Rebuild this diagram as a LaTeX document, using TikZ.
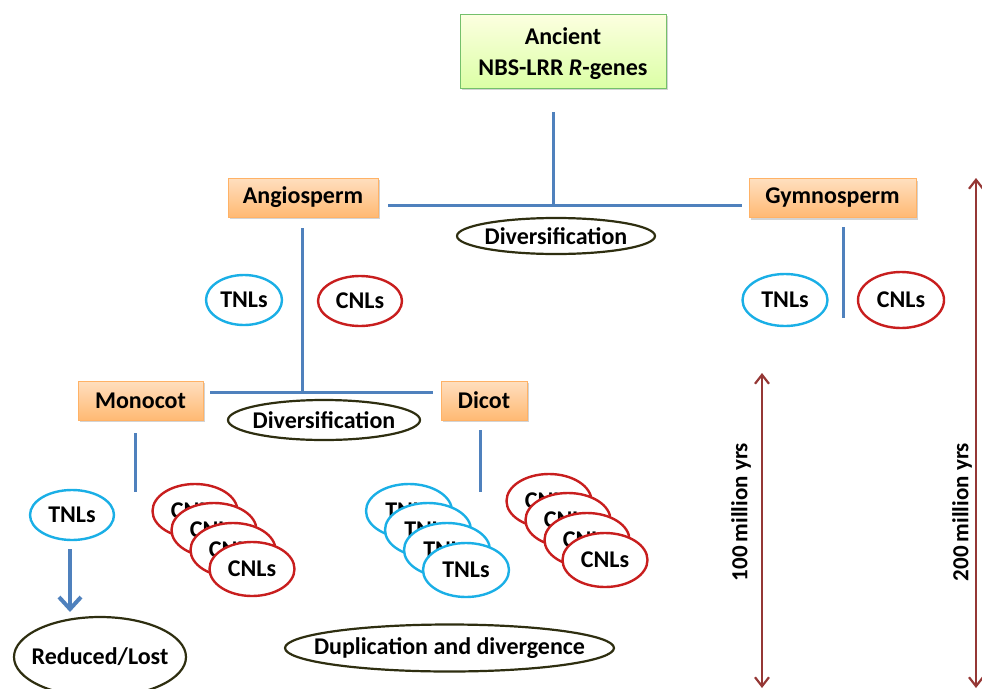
\documentclass[tikz,border=0pt]{standalone}
\usepackage{fontspec}
\setmainfont{Carlito}
\usetikzlibrary{shapes.geometric,arrows.meta,shadows}
\definecolor{lineblue}{HTML}{4F81BD}
\definecolor{tcyan}{HTML}{1AAFE6}
\definecolor{cred}{HTML}{C81E1E}
\definecolor{olive}{HTML}{2E2E10}
\definecolor{darkred}{HTML}{953735}
\tikzset{
  lbl/.style={font=\fontsize{24}{31}\selectfont\bfseries},
  orangebox/.style={lbl, rectangle, draw=orange!60!white, line width=0.8pt,
    top color=orange!25!white, bottom color=orange!55!white,
    drop shadow={shadow xshift=1.5pt, shadow yshift=-2pt, opacity=0.35},
    minimum height=39pt, inner sep=0pt},
  greenbox/.style={rectangle, draw=green!50!olive!60!white, line width=0.8pt,
    top color=green!8!yellow!12!white, bottom color=green!40!yellow!35!white,
    drop shadow={shadow xshift=1.5pt, shadow yshift=-2pt, opacity=0.35},
    inner sep=0pt},
  tnl/.style={lbl, ellipse, draw=tcyan, line width=2.4pt, fill=white, inner sep=0pt,
    minimum width=84pt, minimum height=52pt},
  cnl/.style={lbl, ellipse, draw=cred, line width=2.4pt, fill=white, inner sep=0pt,
    minimum width=85pt, minimum height=54pt},
  procell/.style={ellipse, draw=olive, line width=2.2pt, fill=white, inner sep=0pt},
  inlabel/.style={label={[lbl, align=center]center:#1}},
  bline/.style={draw=lineblue, line width=3pt},
  timearrow/.style={draw=darkred, line width=2.2pt, {Straight Barb[length=9pt,width=14pt]}-{Straight Barb[length=9pt,width=14pt]}},
  timelbl/.style={font=\fontsize{23}{28}\selectfont\bfseries, rotate=90}
}
\begin{document}
\begin{tikzpicture}[x=1pt,y=-1pt]
\useasboundingbox (0,0) rectangle (982,688);

% top box
\node[greenbox, minimum width=206pt, minimum height=74pt,
  label={[lbl, align=center, yshift=-3pt]center:Ancient\\NBS-LRR \textit{R}-genes}] (anc) at (563,51) {};

% level 1
\node[orangebox, minimum width=150pt] (ang) at (303,197.5) {Angiosperm};
\node[orangebox, minimum width=167pt] (gym) at (832.5,198) {Gymnosperm};
\node[procell, minimum width=198pt, minimum height=36pt, inlabel=Diversification] (div1) at (556,236) {};

\coordinate (ancdown) at (553,112);
\coordinate (j1) at (553,205);
\coordinate (h1l) at (388,205);
\coordinate (h1r) at (742,205);
\draw[bline] (ancdown) -- (j1);
\draw[bline] (h1l) -- (h1r);

% angiosperm branch
\coordinate (angdown) at (302,228);
\coordinate (j2) at (302,392);
\coordinate (h2l) at (210,392);
\coordinate (h2r) at (433,392);
\draw[bline] (angdown) -- (j2);
\draw[bline] (h2l) -- (h2r);
\node[tnl, minimum width=76pt, minimum height=50pt] (tnlA) at (244,300) {TNLs};
\node[cnl, minimum width=84pt, minimum height=50pt] (cnlA) at (360,301) {CNLs};

% gymnosperm branch
\coordinate (gymdown) at (843,227);
\coordinate (gymend) at (843,318);
\draw[bline] (gymdown) -- (gymend);
\node[tnl, minimum width=85pt, minimum height=52pt] (tnlG) at (785,300) {TNLs};
\node[cnl, minimum width=86pt, minimum height=56pt] (cnlG) at (901,300) {CNLs};

% level 2
\node[orangebox, minimum width=125pt] (mono) at (140.5,400.5) {Monocot};
\node[orangebox, minimum width=86pt] (dico) at (484,400.5) {Dicot};
\node[procell, minimum width=192pt, minimum height=40pt, inlabel=Diversification] (div2) at (324,420) {};

\coordinate (monodown) at (135,433);
\coordinate (monoend) at (135,492);
\coordinate (dicodown) at (480,430);
\coordinate (dicoend) at (480,492);
\draw[bline] (monodown) -- (monoend);
\draw[bline] (dicodown) -- (dicoend);

% monocot
\node[tnl, minimum width=84pt, minimum height=50pt] (tnlM) at (72,515) {TNLs};
\node[procell, minimum width=172pt, minimum height=80pt, inlabel=Reduced/Lost] (red) at (100,657) {};
\draw[draw=lineblue, line width=4pt, -{Straight Barb[length=12pt,width=22pt]}] (tnlM.south) ++(-2,8) coordinate (arrs) -- (70,612) coordinate (arre);

\node[cnl] (cm1) at (195,511) {CNLs};
\node[cnl] (cm2) at (214,530) {CNLs};
\node[cnl] (cm3) at (233,550) {CNLs};
\node[cnl] (cm4) at (252,569) {CNLs};

% dicot
\node[tnl, minimum width=86pt, minimum height=54pt] (td1) at (409,511) {TNLs};
\node[tnl, minimum width=86pt, minimum height=54pt] (td2) at (428,530) {TNLs};
\node[tnl, minimum width=86pt, minimum height=54pt] (td3) at (447,550) {TNLs};
\node[tnl, minimum width=86pt, minimum height=54pt] (td4) at (466,570) {TNLs};

\node[cnl] (cd1) at (549,501) {CNLs};
\node[cnl] (cd2) at (568,520) {CNLs};
\node[cnl] (cd3) at (587,540) {CNLs};
\node[cnl] (cd4) at (605,560) {CNLs};

\node[procell, minimum width=329pt, minimum height=47pt, inlabel=Duplication and divergence] (dup) at (449.5,648) {};

% time arrows
\coordinate (t1a) at (762,373);
\coordinate (t1b) at (762,688);
\draw[timearrow] (t1a) -- (t1b);
\node[timelbl] (t1l) at (741,512) {100\kern4pt million yrs};

\coordinate (t2a) at (976,178);
\coordinate (t2b) at (976,688);
\draw[timearrow] (t2a) -- (t2b);
\node[timelbl] (t2l) at (962,512) {200\kern4pt million yrs};
\end{tikzpicture}
\end{document}
